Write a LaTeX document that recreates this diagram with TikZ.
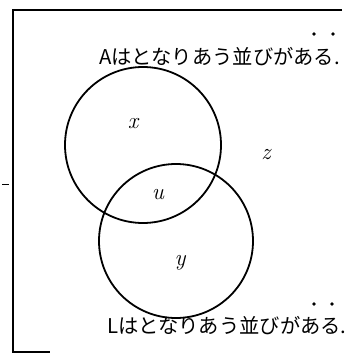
\documentclass[tikz,border=0pt]{standalone}
\usepackage{fontspec}
\newfontfamily\jpfont{Noto Sans CJK JP}
\begin{document}
\begin{tikzpicture}[x=1pt,y=-1pt,
  frame/.style={line width=1.4pt,black},
  ring/.style={line width=1.8pt,black},
  lbl/.style={font=\jpfont\fontsize{20.3}{20.3}\selectfont,inner sep=0pt,anchor=west},
  var/.style={font=\itshape\fontsize{23}{23}\selectfont,inner sep=0pt},
  emdot/.style={fill=black}]
\useasboundingbox (0,0) rectangle (347,358);
% frame
\coordinate (tl) at (13,10);
\coordinate (tr) at (342,10);
\coordinate (bl) at (13,352);
\coordinate (br) at (50,352);
\draw[frame] (tr) -- (tl) -- (bl) -- (br);
\coordinate (t1) at (2,184);
\coordinate (t2) at (9,184);
\draw[line width=1pt] (t1) -- (t2);
% circles
\node[ring,draw,circle,minimum size=156pt,inner sep=0pt] (A) at (143,145) {};
\node[ring,draw,circle,minimum size=154pt,inner sep=0pt] (B) at (176,241) {};
% labels
\node[var] (x) at (133,124) {x};
\node[var] (u) at (158,195) {u};
\node[var] (y) at (180,263) {y};
\node[var] (z) at (266,155) {z};
\node[lbl] (top) at (99,57) {Aはとなりあう並びがある.};
\node[lbl] (bot) at (107,326) {Lはとなりあう並びがある.};
% emphasis dots
\fill[emdot] (314,34) circle (1.9pt);
\fill[emdot] (333,34) circle (1.9pt);
\fill[emdot] (314,304) circle (1.9pt);
\fill[emdot] (332,304) circle (1.9pt);
\end{tikzpicture}
\end{document}
